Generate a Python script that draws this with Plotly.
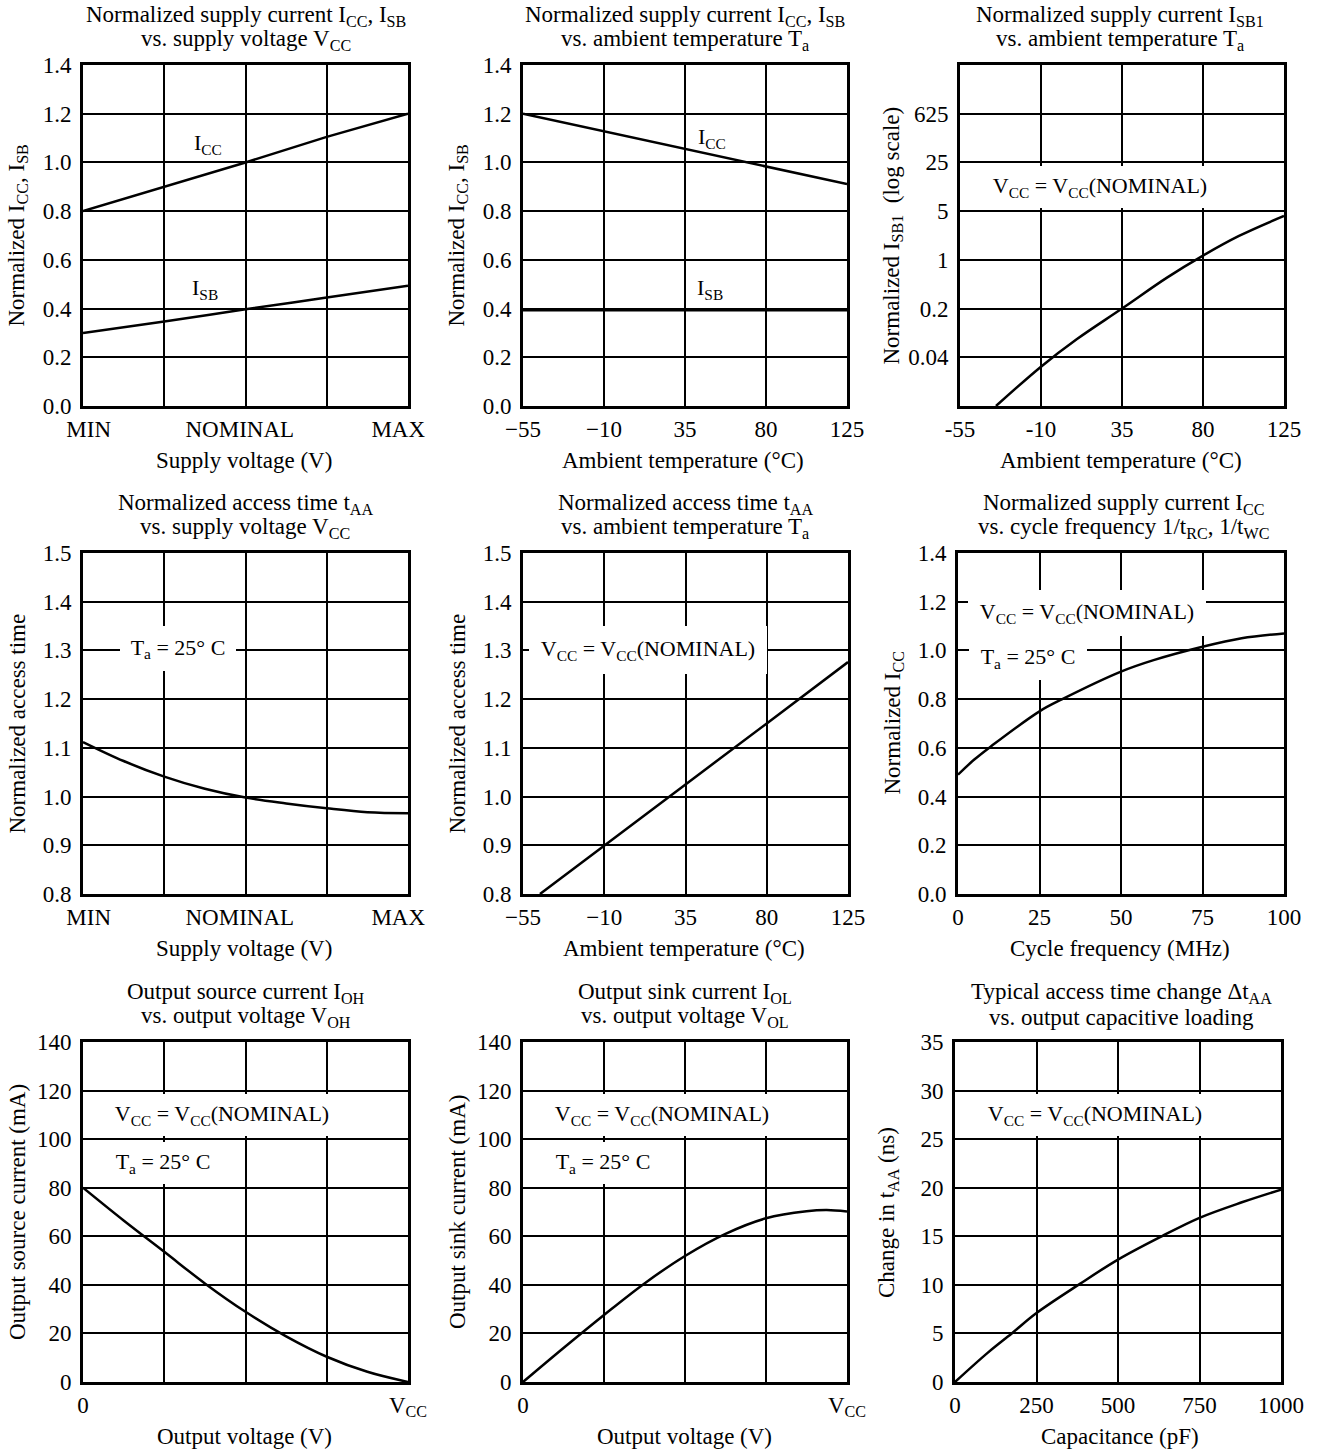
import math
import plotly.graph_objects as go

W, H = 1326, 1454
FONT = "Liberation Serif"
TXT = 23      # titles / axis titles
LBL = 22      # in-plot labels
TICK = 23     # tick labels

# ---------------- data ----------------
# 1: normalized Icc, Isb vs supply voltage (MIN .. MAX mapped to 0..4)
vcc_pos = [0, 1, 2, 3, 4]
icc_vs_vcc = [0.80, 0.90, 1.00, 1.105, 1.20]
isb_vs_vcc = [0.30, 0.347, 0.397, 0.445, 0.494]
vcc_tick_labels = ["MIN", "NOMINAL", "MAX"]

# 2: normalized Icc, Isb vs ambient temperature
temp_c = [-55, -10, 35, 80, 125]
icc_vs_temp = [1.20, 1.128, 1.055, 0.983, 0.911]
isb_vs_temp = [0.395, 0.395, 0.395, 0.395, 0.395]

# 3: normalized Isb1 (log) vs ambient temperature
isb1_temp = [-35, -10, 10, 35, 60, 80, 100, 125]
isb1_vals = [0.008, 0.0293, 0.073, 0.2, 0.556, 1.15, 2.2, 4.26]
isb1_tickvals = [0.04, 0.2, 1, 5, 25, 125]
isb1_ticktext = ["0.04", "0.2", "1", "5", "25", "625"]
temp_ticktext_plain = ["-55", "-10", "35", "80", "125"]

# 4: normalized access time vs supply voltage
taa_vcc_pos = [0, 0.5, 1, 1.5, 2, 2.5, 3, 3.5, 4]
taa_vs_vcc = [1.112, 1.073, 1.041, 1.016, 0.998, 0.986, 0.976, 0.968, 0.966]

# 5: normalized access time vs ambient temperature
taa_temp = [-45.6, -10, 35, 80, 125]
taa_vs_temp = [0.80, 0.90, 1.025, 1.15, 1.276]

# 6: normalized Icc vs cycle frequency
freq_mhz = [0, 5, 10, 25, 32, 50, 60, 75, 87, 100]
icc_vs_freq = [0.49, 0.552, 0.605, 0.75, 0.80, 0.913, 0.96, 1.015, 1.05, 1.07]

# 7: output source current vs output voltage (0 .. Vcc mapped to 0..4)
voh_pos = [0, 0.5, 1, 1.5, 2, 2.5, 3, 3.5, 4]
ioh_ma = [80, 66.5, 53.6, 40.6, 28.9, 18.8, 10.4, 4.2, 0]

# 8: output sink current vs output voltage
vol_pos = [0, 0.5, 1, 1.5, 2, 2.5, 3, 3.5, 3.75, 4]
iol_ma = [0, 14, 27.6, 40.6, 51.9, 61, 67.4, 70.3, 70.8, 70.2]

# 9: access time change vs capacitive loading
cap_pf = [0, 100, 174, 250, 383, 500, 634, 750, 880, 1000]
dtaa_ns = [0, 3.0, 5.0, 7.1, 10.1, 12.6, 15.0, 16.9, 18.5, 19.8]

# ---------------- layout helpers ----------------
# plot boxes in pixels (left, right, top, bottom)
boxes = {
    1: (83, 408, 65, 406), 2: (523, 847, 65, 406), 3: (960, 1284, 65, 406),
    4: (83, 408, 553, 894), 5: (523, 848, 553, 894), 6: (958, 1284, 553, 894),
    7: (83, 408, 1042, 1382), 8: (523, 847, 1042, 1382), 9: (955, 1281, 1042, 1382),
}

def px(x):
    return x / W

def py(y):
    return 1 - y / H

tick_font = dict(family=FONT, size=TICK, color="black")
base_axis = dict(
    showline=True, mirror=True, linecolor="black", linewidth=3,
    showgrid=True, gridcolor="black", gridwidth=2, zeroline=False,
    ticks="", tickfont=tick_font, fixedrange=True, automargin=False,
)

layout = dict(
    template="none",
    width=W, height=H, margin=dict(l=0, r=0, t=0, b=0, pad=0),
    paper_bgcolor="white", plot_bgcolor="white", showlegend=False,
    font=dict(family=FONT, size=TXT, color="black"),
)

xcfg = {}
ycfg = {}
# x axes
cat_x = dict(range=[0, 4], tickmode="array", tickvals=[0.07, 1.93, 3.88],
             ticktext=vcc_tick_labels, showgrid=False,
             minor=dict(tickmode="array", tickvals=[1, 2, 3], showgrid=True,
                        gridcolor="black", gridwidth=2, ticks=""))
temp_x = dict(range=[-55, 125], tickmode="array", tickvals=temp_c)
xcfg[1] = cat_x
xcfg[2] = temp_x
xcfg[3] = dict(range=[-55, 125], tickmode="array", tickvals=temp_c, ticktext=temp_ticktext_plain)
xcfg[4] = cat_x
xcfg[5] = temp_x
xcfg[6] = dict(range=[0, 100], tickmode="linear", tick0=0, dtick=25)
vx = dict(range=[0, 4], tickmode="array", tickvals=[0, 1, 2, 3, 4],
          ticktext=["0", "", "", "", "V<sub>CC</sub>"])
xcfg[7] = vx
xcfg[8] = vx
xcfg[9] = dict(range=[0, 1000], tickmode="linear", tick0=0, dtick=250)
# y axes
y14 = dict(range=[0, 1.4], tickmode="linear", tick0=0, dtick=0.2, tickformat=".1f")
y15 = dict(range=[0.8, 1.5], tickmode="linear", tick0=0.8, dtick=0.1, tickformat=".1f")
ycfg[1] = y14
ycfg[2] = y14
ycfg[3] = dict(type="log", range=[math.log10(0.008), math.log10(625)],
               tickmode="array", tickvals=isb1_tickvals, ticktext=isb1_ticktext)
ycfg[4] = y15
ycfg[5] = y15
ycfg[6] = y14
y140 = dict(range=[0, 140], tickmode="linear", tick0=0, dtick=20)
ycfg[7] = y140
ycfg[8] = y140
ycfg[9] = dict(range=[0, 35], tickmode="linear", tick0=0, dtick=5)

for i in range(1, 10):
    l, r, t, b = boxes[i]
    xa = dict(base_axis)
    xa.update(xcfg[i])
    xa.update(domain=[px(l), px(r)], anchor=f"y{i}" if i > 1 else "y", ticklabelstandoff=0)
    ya = dict(base_axis)
    ya.update(ycfg[i])
    ya.update(domain=[py(b), py(t)], anchor=f"x{i}" if i > 1 else "x", ticklabelstandoff=4)
    layout["xaxis" if i == 1 else f"xaxis{i}"] = xa
    layout["yaxis" if i == 1 else f"yaxis{i}"] = ya

fig = go.Figure()

def add(i, x, y, shape="spline", width=2.5):
    fig.add_trace(go.Scatter(
        x=x, y=y, mode="lines", line=dict(color="black", width=width, shape=shape),
        xaxis="x" if i == 1 else f"x{i}", yaxis="y" if i == 1 else f"y{i}",
        hoverinfo="skip"))

add(1, vcc_pos, icc_vs_vcc, "linear")
add(1, vcc_pos, isb_vs_vcc, "spline")
add(2, temp_c, icc_vs_temp, "linear")
add(2, temp_c, isb_vs_temp, "linear", 3.5)
add(3, isb1_temp, isb1_vals, "spline")
add(4, taa_vcc_pos, taa_vs_vcc, "spline")
add(5, taa_temp, taa_vs_temp, "linear")
add(6, freq_mhz, icc_vs_freq, "spline")
add(7, voh_pos, ioh_ma, "spline")
add(8, vol_pos, iol_ma, "spline")
add(9, cap_pf, dtaa_ns, "spline")

fig.update_layout(**layout)

ann = []
def ref(i):
    return ("x" if i == 1 else f"x{i}"), ("y" if i == 1 else f"y{i}")

# chart titles (two lines)
titles = {
    1: ("Normalized supply current I<sub>CC</sub>, I<sub>SB</sub>", "vs. supply voltage V<sub>CC</sub>"),
    2: ("Normalized supply current I<sub>CC</sub>, I<sub>SB</sub>", "vs. ambient temperature T<sub>a</sub>"),
    3: ("Normalized supply current I<sub>SB1</sub>", "vs. ambient temperature T<sub>a</sub>"),
    4: ("Normalized access time t<sub>AA</sub>", "vs. supply voltage V<sub>CC</sub>"),
    5: ("Normalized access time t<sub>AA</sub>", "vs. ambient temperature T<sub>a</sub>"),
    6: ("Normalized supply current I<sub>CC</sub>", "vs. cycle frequency 1/t<sub>RC</sub>, 1/t<sub>WC</sub>"),
    7: ("Output source current I<sub>OH</sub>", "vs. output voltage V<sub>OH</sub>"),
    8: ("Output sink current I<sub>OL</sub>", "vs. output voltage V<sub>OL</sub>"),
    9: ("Typical access time change \u0394t<sub>AA</sub>", "vs. output capacitive loading"),
}
title_centers_x = {1: 246, 2: 685, 3: 1120, 4: 245, 5: 685, 6: 1123, 7: 246, 8: 685, 9: 1121}
for i, (l1, l2) in titles.items():
    l, r, t, b = boxes[i]
    cx = title_centers_x[i]
    ann.append(dict(xref="paper", yref="paper", x=px(cx), y=py(t - 49), text=l1,
                    showarrow=False, xanchor="center", yanchor="middle",
                    font=dict(family=FONT, size=TXT)))
    ann.append(dict(xref="paper", yref="paper", x=px(cx), y=py(t - 25), text=l2,
                    showarrow=False, xanchor="center", yanchor="middle",
                    font=dict(family=FONT, size=TXT)))

# x axis titles
xtitles = {1: "Supply voltage (V)", 2: "Ambient temperature (\u00b0C)", 3: "Ambient temperature (\u00b0C)",
           4: "Supply voltage (V)", 5: "Ambient temperature (\u00b0C)", 6: "Cycle frequency (MHz)",
           7: "Output voltage (V)", 8: "Output voltage (V)", 9: "Capacitance (pF)"}
xtitle_cx = {1: 244, 2: 683, 3: 1121, 4: 244, 5: 684, 6: 1120, 7: 244, 8: 684, 9: 1120}
for i, txt in xtitles.items():
    l, r, t, b = boxes[i]
    ann.append(dict(xref="paper", yref="paper", x=px(xtitle_cx[i]), y=py(b + 54), text=txt,
                    showarrow=False, xanchor="center", yanchor="middle",
                    font=dict(family=FONT, size=TXT)))

# y axis titles
ytitles = {1: "Normalized I<sub>CC</sub>, I<sub>SB</sub>", 2: "Normalized I<sub>CC</sub>, I<sub>SB</sub>",
           3: "Normalized I<sub>SB1</sub>  (log scale)", 4: "Normalized access time",
           5: "Normalized access time", 6: "Normalized I<sub>CC</sub>",
           7: "Output source current (mA)", 8: "Output sink current (mA)",
           9: "Change in t<sub>AA</sub> (ns)"}
ytitle_x = {1: 17, 2: 457, 3: 892, 4: 17, 5: 457, 6: 893, 7: 17, 8: 457, 9: 888}
for i, txt in ytitles.items():
    l, r, t, b = boxes[i]
    ann.append(dict(xref="paper", yref="paper", x=px(ytitle_x[i]), y=py((t + b) / 2), text=txt,
                    showarrow=False, xanchor="center", yanchor="middle", textangle=-90,
                    font=dict(family=FONT, size=TXT)))

# in-plot labels
def label(i, x, y, text, w=None, h=None, bg=True):
    xr, yr = ref(i)
    d = dict(xref=xr, yref=yr, x=x, y=y, text=text, showarrow=False,
             xanchor="center", yanchor="middle", font=dict(family=FONT, size=LBL),
             borderpad=0, borderwidth=0)
    if bg:
        d["bgcolor"] = "white"
    if w:
        d["width"] = w
    if h:
        d["height"] = h
    ann.append(d)

VCCN = "V<sub>CC</sub> = V<sub>CC</sub>(NOMINAL)"
TA = "T<sub>a</sub> = 25\u00b0 C"

label(1, 1.54, 1.075, "I<sub>CC</sub>", bg=False)
label(1, 1.50, 0.48, "I<sub>SB</sub>", bg=False)
label(2, 50, 1.10, "I<sub>CC</sub>", bg=False)
label(2, 49, 0.48, "I<sub>SB</sub>", bg=False)
label(3, 22.8, math.log10(5 * math.sqrt(5)), VCCN, 236, 42)
label(4, 1.17, 1.303, TA, 116, 45)
label(5, 14.2, 1.30, VCCN, 238, 48)
label(6, 39.7, 1.154, VCCN, 238, 46)
label(6, 21.6, 0.969, TA, 118, 44)
label(7, 1.705, 110.0, VCCN, 236, 42)
label(7, 0.99, 90.0, TA, 118, 42)
label(8, 1.71, 110.0, VCCN, 236, 42)
label(8, 0.99, 90.0, TA, 118, 42)
label(9, 428, 27.5, VCCN, 234, 42)

fig.update_layout(annotations=ann)
# remove the default page margin so the figure fills the browser window exactly
fig.write_html(
    "out.html",
    config={"displayModeBar": False, "staticPlot": True},
    post_script="document.body.style.margin='0';document.body.style.padding='0';"
                "document.body.style.overflow='hidden';",
)
